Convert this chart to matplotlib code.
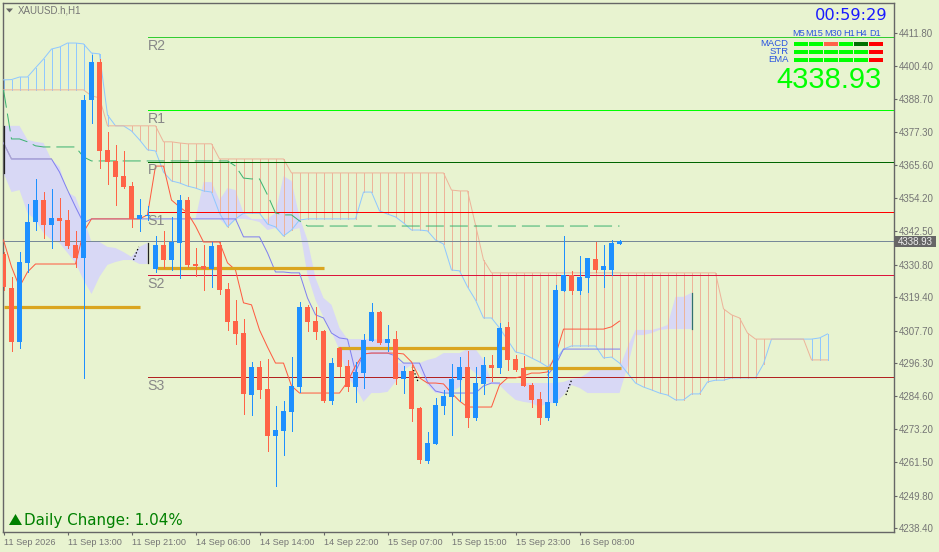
import matplotlib
matplotlib.use("Agg")
import matplotlib.pyplot as plt
import numpy as np

# --- Candles (XAUUSD H1) ---
opens = [4334.5, 4322.6, 4303.7, 4331.4, 4345.7, 4353.4, 4344.7, 4347.1, 4346.4, 4337.7,
         4333.1, 4388.5, 4401.8, 4371.0, 4367.1, 4361.8, 4358.3, 4346.8, 4347.8, 4329.3,
         4337.7, 4332.4, 4338.4, 4353.4, 4331.0, 4330.3, 4329.3, 4337.7, 4322.3, 4311.0,
         4306.8, 4285.1, 4295.0, 4287.2, 4270.8, 4272.5, 4279.2, 4287.9, 4316.0, 4311.0,
         4307.5, 4283.0, 4301.6, 4295.3, 4287.9, 4292.8, 4304.0, 4314.2, 4303.3, 4304.7,
         4290.7, 4293.5, 4280.6, 4262.0, 4268.0, 4281.3, 4284.4, 4290.3, 4295.0, 4277.1,
         4289.0, 4295.6, 4294.6, 4309.0, 4297.7, 4294.6, 4288.6, 4283.7, 4277.1, 4282.3,
         4321.6, 4327.2, 4321.6, 4326.1, 4332.8, 4328.9, 4329.0, 4338.0]
highs = [4335.2, 4326.5, 4335.2, 4352.0, 4360.8, 4356.2, 4357.3, 4354.1, 4349.9, 4342.6,
         4390.2, 4404.2, 4402.8, 4377.3, 4372.7, 4370.6, 4359.7, 4353.8, 4351.3, 4340.8,
         4342.6, 4347.5, 4355.2, 4354.5, 4336.6, 4337.7, 4338.7, 4338.7, 4324.4, 4318.4,
         4311.7, 4296.7, 4297.0, 4297.7, 4281.3, 4283.0, 4298.4, 4317.7, 4316.7, 4316.0,
         4307.9, 4298.1, 4301.9, 4297.4, 4296.7, 4306.5, 4317.4, 4314.6, 4309.6, 4307.5,
         4295.3, 4295.6, 4280.9, 4272.2, 4284.1, 4286.9, 4296.0, 4298.4, 4300.5, 4295.0,
         4298.4, 4299.1, 4310.3, 4310.7, 4299.1, 4298.8, 4289.3, 4286.2, 4293.9, 4323.7,
         4340.8, 4328.6, 4333.8, 4333.1, 4338.7, 4337.7, 4339.4, 4339.4]
lows = [4321.9, 4300.5, 4301.6, 4328.2, 4342.9, 4340.1, 4336.6, 4339.4, 4336.6, 4330.0,
        4291.1, 4380.4, 4364.6, 4359.0, 4351.7, 4357.6, 4344.0, 4342.6, 4346.4, 4328.2,
        4329.6, 4328.9, 4326.1, 4330.0, 4326.8, 4321.9, 4323.0, 4320.5, 4307.9, 4303.0,
        4278.4, 4278.1, 4284.1, 4265.5, 4253.3, 4264.1, 4272.5, 4286.2, 4307.5, 4304.7,
        4282.7, 4282.0, 4291.8, 4286.5, 4282.7, 4287.6, 4304.0, 4303.0, 4300.5, 4289.0,
        4285.8, 4276.0, 4261.3, 4261.3, 4268.0, 4278.4, 4271.1, 4283.0, 4273.9, 4276.4,
        4285.5, 4290.0, 4292.8, 4293.9, 4293.5, 4288.3, 4280.9, 4275.0, 4276.4, 4281.6,
        4321.6, 4320.5, 4320.5, 4321.2, 4328.2, 4323.0, 4327.2, 4338.0]
closes = [4323.0, 4303.7, 4331.7, 4345.7, 4353.4, 4344.7, 4347.1, 4346.1, 4337.3, 4333.1,
          4388.5, 4401.8, 4370.6, 4366.8, 4361.5, 4358.0, 4346.8, 4348.2, 4348.2, 4337.7,
          4332.4, 4338.7, 4353.4, 4330.7, 4330.3, 4329.3, 4337.3, 4321.9, 4310.7, 4306.5,
          4285.5, 4295.0, 4286.9, 4270.8, 4272.9, 4279.5, 4288.3, 4316.0, 4310.7, 4307.2,
          4283.0, 4296.3, 4295.0, 4287.9, 4293.2, 4304.4, 4314.2, 4303.3, 4304.7, 4290.7,
          4293.5, 4280.2, 4262.4, 4268.3, 4281.6, 4284.8, 4290.7, 4295.0, 4277.1, 4289.3,
          4295.6, 4294.6, 4308.6, 4297.4, 4293.9, 4288.3, 4283.4, 4277.1, 4282.7, 4321.9,
          4327.2, 4321.6, 4326.5, 4333.1, 4328.9, 4330.3, 4338.4, 4338.93]

# --- Ichimoku lines ---
tenkan = [4339.4, 4330.0, 4323.0, 4328.2, 4331.0, 4331.0, 4331.0, 4331.0, 4331.0, 4331.0,
          4342.2, 4346.8, 4346.8, 4346.8, 4346.8, 4346.8, 4346.8, 4346.8, 4348.2, 4365.3,
          4365.3, 4353.4, 4351.0, 4348.9, 4344.3, 4338.7, 4338.7, 4338.7, 4331.4, 4328.9,
          4317.4, 4316.7, 4307.9, 4301.9, 4296.3, 4296.3, 4288.3, 4285.8, 4285.8, 4285.8,
          4285.8, 4285.8, 4285.8, 4289.7, 4295.3, 4299.5, 4299.8, 4299.8, 4299.8, 4299.8,
          4299.5, 4296.7, 4291.1, 4289.3, 4289.3, 4289.0, 4285.8, 4283.0, 4280.9, 4280.9,
          4280.9, 4280.9, 4288.6, 4291.1, 4291.1, 4291.8, 4292.8, 4292.8, 4293.2, 4299.1,
          4308.2, 4308.2, 4308.2, 4308.2, 4308.2, 4308.2, 4309.0, 4311.0]
kijun = [4373.4, 4367.8, 4367.8, 4367.8, 4367.8, 4367.8, 4367.8, 4363.2, 4356.9, 4351.0,
         4345.4, 4346.8, 4346.8, 4346.8, 4346.8, 4346.8, 4346.8, 4346.8, 4346.8, 4346.8,
         4346.8, 4346.8, 4346.8, 4346.8, 4346.8, 4346.8, 4346.8, 4346.8, 4346.8, 4346.8,
         4340.5, 4340.5, 4340.5, 4334.9, 4328.2, 4328.2, 4327.9, 4327.9, 4319.1, 4313.2,
         4312.1, 4306.8, 4305.1, 4304.7, 4293.2, 4299.5, 4299.8, 4299.8, 4299.8, 4298.8,
         4296.3, 4296.3, 4296.3, 4289.7, 4286.5, 4285.8, 4285.8, 4285.8, 4285.8, 4285.8,
         4288.3, 4289.3, 4289.3, np.nan, np.nan, np.nan, np.nan, np.nan, 4292.1, 4295.6,
         4301.2, 4301.2, 4301.2, 4301.2, 4301.2, 4301.2, 4301.2, 4301.2]
chikou = [4392.0, 4374.8, 4374.8, 4373.8, 4372.4, 4372.0, 4372.0, 4372.0, 4372.0, 4372.0,
          4368.5, 4367.1, 4367.1, 4367.1, 4367.1, 4367.1, 4367.1, 4367.1, 4367.1, 4367.1,
          4367.1, 4367.1, 4367.1, 4367.1, 4367.1, 4367.1, 4367.1, 4367.1, 4367.1, 4365.3,
          4361.1, 4360.8, 4360.8, 4355.2, 4348.9, 4348.2, 4348.2, 4346.1, 4344.3, 4344.3,
          4344.3, 4344.3, 4344.3, 4344.3, 4344.3, 4344.3, 4344.3, 4344.3, 4344.3, 4344.3,
          4344.3, 4344.3, 4344.3, 4344.3, 4344.3, 4344.3, 4344.3, 4344.3, 4344.3, 4344.3,
          4344.3, 4344.3, 4344.3, 4344.3, 4344.3, 4344.3, 4344.3, 4344.3, 4344.3, 4344.3,
          4344.3, 4344.3, 4344.3, 4344.3, 4344.3, 4344.3, 4344.3, 4344.3]
span_a = [4395.5, 4395.6, 4396.5, 4396.5, 4399.7, 4402.8, 4406.3, 4407.0, 4408.4, 4408.4,
          4408.1, 4404.9, 4404.6, 4383.2, 4379.4, 4379.4, 4377.6, 4374.5, 4371.0, 4370.6,
          4363.2, 4360.1, 4359.4, 4358.3, 4357.6, 4356.6, 4356.2, 4348.8, 4344.0, 4346.8,
          4348.8, 4348.8, 4348.8, 4345.0, 4344.0, 4340.8, 4342.9, 4346.4, 4346.8, 4346.8,
          4346.8, 4346.8, 4346.8, 4346.8, 4346.8, 4356.2, 4356.2, 4349.6, 4348.5, 4347.5,
          4345.4, 4342.9, 4342.9, 4342.6, 4339.4, 4338.0, 4328.9, 4328.6, 4323.0, 4318.4,
          4312.1, 4312.1, 4308.6, 4304.4, 4300.2, 4299.5, 4298.1, 4296.7, 4295.0, 4297.4,
          4301.2, 4302.3, 4302.3, 4302.3, 4302.3, 4298.1, 4298.4, 4296.3, 4292.8, 4289.3,
          4287.9, 4286.9, 4285.8, 4285.1, 4283.4, 4283.4, 4285.5, 4285.5, 4289.7, 4290.3,
          4290.3, 4291.1, 4291.1, 4291.1, 4291.1, 4296.0, 4304.7, 4304.7, 4304.7, 4304.7,
          4304.7, 4304.7, 4305.1, 4306.5]
span_b = [4392.0, 4392.0, 4392.0, 4392.0, 4392.0, 4392.0, 4392.0, 4392.0, 4392.0, 4392.0,
          4392.0, 4389.9, 4389.2, 4379.4, 4379.4, 4379.4, 4379.4, 4379.4, 4379.4, 4379.4,
          4373.8, 4373.8, 4373.4, 4373.1, 4373.1, 4373.1, 4373.1, 4367.8, 4367.8, 4367.8,
          4367.8, 4367.8, 4367.8, 4367.8, 4367.8, 4367.8, 4362.9, 4362.9, 4362.9, 4362.9,
          4362.9, 4362.9, 4362.9, 4362.9, 4362.9, 4362.9, 4362.9, 4362.9, 4362.9, 4362.9,
          4362.9, 4362.9, 4362.9, 4362.9, 4362.9, 4362.9, 4356.9, 4356.6, 4356.6, 4344.7,
          4332.4, 4327.9, 4327.9, 4327.9, 4327.9, 4327.9, 4327.9, 4327.9, 4327.9, 4327.9,
          4327.9, 4327.9, 4327.9, 4327.9, 4327.9, 4327.9, 4327.9, 4327.9, 4327.9, 4327.9,
          4327.9, 4327.9, 4327.9, 4327.9, 4327.9, 4327.9, 4327.9, 4327.9, 4327.9, 4327.9,
          4315.3, 4313.2, 4312.1, 4306.8, 4304.7, 4304.7, 4304.7, 4304.7, 4304.7, 4304.7,
          4304.7, 4297.4, 4297.4, 4297.4]

# --- Lavender cloud, upper and lower edge per bar ---
cloud_top = [4379.4, 4379.4, 4379.4, 4374.5, 4373.8, 4373.4, 4367.5, 4365.0, 4356.2, 4354.5,
             4347.1, 4338.7, 4338.7, 4337.0, 4336.6, 4335.2, 4333.5, 4337.0, 4338.4, np.nan,
             np.nan, np.nan, np.nan, np.nan, 4346.8, 4359.7, 4359.7, 4353.4, 4357.6, 4356.9,
             4348.9, 4346.8, 4346.8, 4346.8, 4348.9, 4361.8, 4360.1, 4347.5, 4339.4, 4326.1,
             4319.1, 4316.7, 4308.6, 4304.7, 4304.7, 4304.7, 4304.7, 4304.7, 4304.7, 4296.3,
             4296.3, 4296.3, 4296.3, 4297.4, 4298.1, 4299.8, 4299.8, 4299.8, 4301.2, 4301.2,
             4297.4, 4289.7, 4289.3, 4289.3, 4289.3, 4289.3, 4289.3, 4289.3, 4289.3, 4289.3,
             4289.7, 4290.7, 4291.1, 4292.8, 4295.0, 4294.2, 4293.9, 4294.6, 4301.9, 4307.9,
             4307.9, 4307.9, 4308.6, 4309.6, 4319.5, 4319.5, 4320.9]
cloud_bot = [4362.9, 4356.2, 4356.9, 4348.9, 4346.4, 4341.9, 4339.4, 4338.4, 4334.9, 4331.4,
             4325.4, 4320.5, 4326.5, 4330.7, 4331.7, 4332.4, 4332.4, 4331.0, 4331.0, np.nan,
             np.nan, np.nan, np.nan, np.nan, 4346.8, 4346.8, 4346.8, 4346.8, 4344.0, 4346.8,
             4346.8, 4346.4, 4345.7, 4342.9, 4343.6, 4340.8, 4342.9, 4343.6, 4327.2, 4318.4,
             4312.4, 4307.2, 4300.9, 4291.4, 4287.9, 4282.7, 4285.8, 4285.8, 4286.2, 4289.7,
             4293.9, 4295.6, 4293.2, 4288.6, 4285.8, 4285.8, 4286.2, 4287.9, 4295.0, 4292.8,
             4290.3, 4289.0, 4288.6, 4285.8, 4283.4, 4282.7, 4282.3, 4280.9, 4282.3, 4282.3,
             4285.1, 4288.6, 4287.6, 4285.8, 4285.8, 4285.8, 4285.8, 4285.8, 4295.0, 4306.1,
             4306.1, 4306.8, 4307.9, 4308.2, 4308.2, 4308.2, 4308.2]

# Pivot levels: (label, price, colour)
pivot_names = ["R2", "R1", "P", "S1", "S2", "S3"]
pivot_levels = [4410.4, 4384.8, 4366.9, 4349.1, 4327.0, 4291.3]
pivot_colors = ["#32CD32", "#00FF00", "#006400", "#FF0000", "#DC143C", "#B22222"]
last_price = 4338.93

# Gold support/resistance strokes
gold_prices = [4315.9, 4329.5, 4301.5, 4294.5]
gold_starts = [0, 19.2, 41.8, 65]
gold_ends = [17.1, 40.1, 62.7, 77.2]

# Short dark pieces at the cloud edges
edge_x = [(0, 0), (18, 18), (16.25, 16.9), (51.1, 51.8), (70.3, 71), (86, 86)]
edge_y = [(4379.4, 4362.9), (4338.4, 4331.4), (4332.4, 4337.0), (4295.0, 4289.9), (4285.1, 4290.3), (4320.9, 4308.2)]
edge_colors = ["#222222", "#222222", "black", "black", "black", "#2F6F6F"]
edge_styles = ["-", "-", (0, (1, 1.5)), (0, (1, 1.5)), (0, (1, 1.5)), "-"]

# Axis labels
y_ticks = [4411.80, 4400.40, 4388.70, 4377.30, 4365.60, 4354.20, 4342.50, 4330.80,
           4319.40, 4307.70, 4296.30, 4284.60, 4273.20, 4261.50, 4249.80, 4238.40]
x_ticks = [0, 8, 16, 24, 32, 40, 48, 56, 64, 72]
x_labels = ["11 Sep 2026", "11 Sep 13:00", "11 Sep 21:00", "14 Sep 06:00", "14 Sep 14:00",
            "14 Sep 22:00", "15 Sep 07:00", "15 Sep 15:00", "15 Sep 23:00", "16 Sep 08:00"]

# Signal panel
panel_frames = ["M5", "M15", "M30", "H1", "H4", "D1"]
panel_rows = ["MACD", "STR", "EMA"]
panel_colors = [["#00FF00", "#00FF00", "#FF6347", "#00FF00", "#007000", "#FF0000"],
                ["#00FF00", "#00FF00", "#00FF00", "#00FF00", "#00FF00", "#FF0000"],
                ["#00FF00", "#00FF00", "#00FF00", "#00FF00", "#00FF00", "#FF0000"]]

BG = "#E8F3D0"
AXIS = "#666666"
LABEL = "#757575"
UP = "#1E90FF"
DOWN = "#FF6347"
SANS = "Liberation Sans"
THIN = 0.62   # straight, snapped lines
CURVE = 0.72  # polylines stay antialiased, hard edges make them two pixels wide

plt.rcParams["lines.scale_dashes"] = False

W, H = 939, 552
fig = plt.figure(figsize=(W / 100, H / 100), dpi=100, facecolor=BG)
ax = fig.add_axes([2.5 / W, 1 - 531.5 / H, 891 / W, 529 / H], facecolor=BG)

# 8 px per bar, bar 0 sits at 3.5 px
ax.set_xlim(-0.125, 111.25)
ax.set_ylim(4237.3, 4422.6)

bars = np.arange(len(opens))
span_x = np.arange(len(span_a))
a = np.array(span_a)
b = np.array(span_b)

# --- Cloud and hatching ---
ax.fill_between(np.arange(len(cloud_top)), cloud_bot, cloud_top, color="#D8D8F5", lw=0, zorder=1)
hatch_colors = ["#90C8FF" if p > q else "#EDB49A" for p, q in zip(a, b)]
ax.vlines(span_x, np.minimum(a, b), np.maximum(a, b), colors=hatch_colors, lw=THIN, antialiaseds=False, zorder=2)
ax.plot(span_x, span_a, color="#90C8FF", lw=CURVE, zorder=3)
ax.plot(span_x, span_b, color="#EDB49A", lw=CURVE, zorder=3)

# --- Pivots ---
for name, level, col in zip(pivot_names, pivot_levels, pivot_colors):
    ax.hlines(level, 18, 111.25, color=col, lw=THIN, antialiaseds=False, zorder=3)
    ax.annotate(name, xy=(18, level), xytext=(0, -1.3), textcoords="offset points",
                ha="left", va="top", fontsize=10.2, family=SANS, color="#888888", zorder=8)
ax.axhline(last_price, color="#778899", lw=THIN, antialiased=False, zorder=3)

# --- Indicator lines ---
ax.plot(bars, chikou, color="#3CB371", lw=CURVE, dashes=(13, 4.3), zorder=3)
ax.plot(bars, kijun, color="#8080F0", lw=CURVE, zorder=4)
ax.plot(bars[:7], kijun[:7], color="#B0A8C8", lw=CURVE, zorder=4)
ax.plot(bars, tenkan, color="#FF5A40", lw=CURVE, zorder=4)
ax.hlines(gold_prices, gold_starts, gold_ends, color="#DAA520", lw=2.3, zorder=4)
for ex, ey, col, ls in zip(edge_x, edge_y, edge_colors, edge_styles):
    ax.plot(ex, ey, color=col, ls=ls, lw=0.9, zorder=5)

# --- Candles ---
o = np.array(opens)
c = np.array(closes)
candle_colors = [UP if q >= p else DOWN for p, q in zip(o, c)]
ax.vlines(bars, lows, highs, colors=candle_colors, lw=THIN, antialiaseds=False, zorder=6)
ax.bar(bars, np.abs(c - o), bottom=np.minimum(o, c), width=0.66, color=candle_colors, lw=0, zorder=7)

# --- Axes ---
ax.yaxis.tick_right()
ax.set_yticks(y_ticks)
ax.set_yticklabels([f"{v:.2f}" for v in y_ticks], family=SANS, fontsize=7, color=LABEL)
ax.set_xticks(x_ticks)
ax.set_xticklabels(x_labels, family=SANS, fontsize=6.6, color=LABEL, ha="left")
ax.tick_params(axis="y", length=2.2, width=0.8, color=AXIS, pad=1.6)
ax.tick_params(axis="x", length=2.2, width=0.8, color=AXIS, pad=2.6)
for spine in ax.spines.values():
    spine.set_color(AXIS)
    spine.set_linewidth(1.0)

# --- Overlay in screen pixels for the labels on top of the chart ---
hud = fig.add_axes([0, 0, 1, 1], facecolor="none")
hud.set_xlim(0, W)
hud.set_ylim(H, 0)
hud.axis("off")

hud.fill([6, 13, 9.5], [8.5, 8.5, 12.5], color="#666666", lw=0)
hud.text(18, 10.5, "XAUUSD.h,H1", family=SANS, fontsize=7, color=LABEL, va="center", ha="left")

hud.text(888, 15, "00:59:29", fontsize=11.7, color="#1A1AFF", ha="right", va="center")
frame_centers = [799, 814, 833, 849, 861, 875]
for name, fx in zip(panel_frames, frame_centers):
    hud.text(fx, 33.5, name, family=SANS, fontsize=6.6, color="#2B55E0", ha="center", va="center")

cell_x = [794, 809, 824, 839, 854, 869]
for r, (name, ry) in enumerate(zip(panel_rows, [44, 52, 60])):
    hud.text(788.5, ry - 0.8, name, family=SANS, fontsize=6.8, color="#2B55E0", ha="right", va="center")
    for cx, col in zip(cell_x, panel_colors[r]):
        hud.fill([cx, cx + 13.5, cx + 13.5, cx], [ry - 2, ry - 2, ry + 2, ry + 2], color=col, lw=0)

hud.text(882, 80.5, f"{last_price:.2f}", family=SANS, fontsize=21, color="#00FF00", ha="right", va="center")

# Last price tag
hud.fill([895, 936, 936, 895], [236, 236, 246.7, 246.7], color="#666666", lw=0)
hud.text(915.5, 241.6, f"{last_price:.2f}", family=SANS, fontsize=7, color="#EEEEEE", ha="center", va="center")

# Daily change
hud.fill([9, 22, 15.5], [525, 525, 514], color="#008000", lw=0)
hud.text(24, 520.5, "Daily Change: 1.04%", fontsize=10.9, color="#008000", ha="left", va="center")

fig.savefig("out.png", dpi=100, facecolor=BG)
